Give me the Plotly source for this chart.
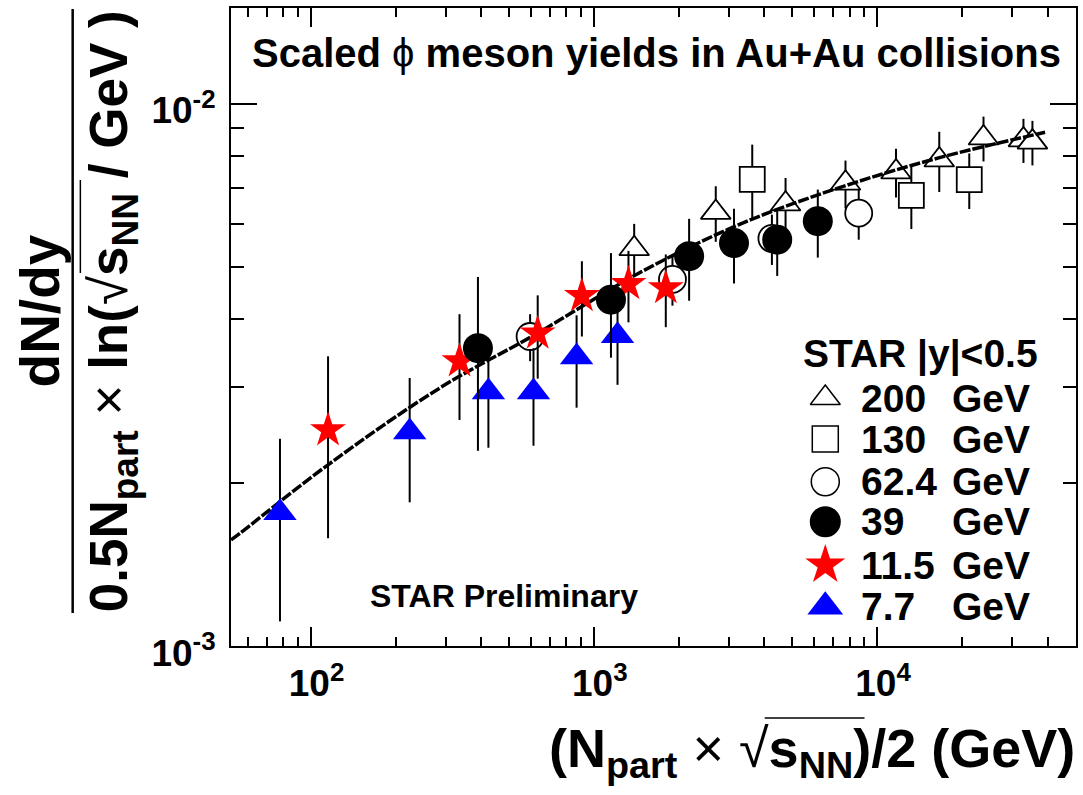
import plotly.graph_objects as go

# ---- phi yields per (0.5 N_part * ln(sqrt(s_NN)/GeV)) vs (N_part * sqrt(s_NN))/2 ----
energies = ["200", "130", "62.4", "39", "11.5", "7.7"]

x_200 = [1389, 2696, 4755, 7740, 11670, 16590, 23770, 32890, 35380]
y_200 = [0.00540, 0.00630, 0.00653, 0.00713, 0.00748, 0.00787, 0.00864, 0.00857, 0.00849]
e_200 = [0.00060, 0.00074, 0.00076, 0.00072, 0.00077, 0.00100, 0.00082, 0.00080, 0.00080]

x_130 = [3627, 13220, 21170]
y_130 = [0.00725, 0.00677, 0.00724]
e_130 = [0.00115, 0.00090, 0.00085]

x_62 = [596, 1896, 4256, 8619]
y_62 = [0.00372, 0.00474, 0.00564, 0.00628]
e_62 = [0.00037, 0.00050, 0.00060, 0.00067]

x_39 = [390, 1150, 2171, 3127, 4443, 6180]
y_39 = [0.00354, 0.00435, 0.00523, 0.00553, 0.00561, 0.00607]
e_39 = [0.00125, 0.00095, 0.00090, 0.00087, 0.00080, 0.00087]

x_11 = [115.3, 335.7, 634, 908, 1326, 1796]
y_11 = [0.00250, 0.00335, 0.00377, 0.00442, 0.00465, 0.00457]
e_11 = [0.00092, 0.00074, 0.00066, 0.00070, 0.00070, 0.00070]

x_7 = [78.0, 223.9, 424.6, 612.6, 869.7, 1213]
y_7 = [0.00176, 0.00248, 0.00294, 0.00294, 0.00341, 0.00373]
e_7 = [0.00065, 0.00064, 0.00062, 0.00060, 0.00066, 0.00070]

# global trend curve
fit_x = [52.4, 56.35, 115.3, 285.5, 634, 1446, 3256, 7328, 16500, 39220]
fit_y = [0.001569, 0.001614, 0.002158, 0.002988, 0.003774, 0.004871,
         0.005981, 0.006991, 0.007939, 0.008851]

x_ticks = [100, 1000, 10000]
x_ticktext = ["10<sup>2</sup>", "10<sup>3</sup>", "10<sup>4</sup>"]
y_ticks = [0.001, 0.01]
y_ticktext = ["10<sup>-3</sup>", "10<sup>-2</sup>"]

# ---- page geometry (pixels) ----
W, H = 1083, 795
L, R, T, B = 231, 1078, 8, 646
FONT = "Liberation Sans, Arial, Helvetica, sans-serif"


def fx(p):
    return (p - L) / (R - L)


def fy(p):
    return (B - p) / (B - T)


def err(arr):
    return dict(type="data", array=arr, color="black", thickness=2, width=0)


fig = go.Figure()

# open markers first (white filled so their error bars do not show inside)
fig.add_trace(go.Scatter(x=x_62, y=y_62, mode="markers", error_y=err(e_62),
                         marker=dict(symbol="circle", size=27, color="white",
                                     line=dict(color="black", width=1.8))))
fig.add_trace(go.Scatter(x=x_200, y=y_200, mode="markers", error_y=err(e_200),
                         marker=dict(symbol="triangle-up", size=26, color="white",
                                     line=dict(color="black", width=1.8))))
fig.add_trace(go.Scatter(x=x_130, y=y_130, mode="markers", error_y=err(e_130),
                         marker=dict(symbol="square", size=25, color="white",
                                     line=dict(color="black", width=1.8))))
fig.add_trace(go.Scatter(x=fit_x, y=fit_y, mode="lines",
                         line=dict(color="black", width=3.5, dash="11px,2px",
                                   shape="spline", smoothing=1.0)))
fig.add_trace(go.Scatter(x=x_7, y=y_7, mode="markers", error_y=err(e_7),
                         marker=dict(symbol="triangle-up", size=29, color="#0000ff",
                                     line=dict(width=0))))
fig.add_trace(go.Scatter(x=x_11, y=y_11, mode="markers", error_y=err(e_11),
                         marker=dict(symbol="star", size=27, color="#ff0000",
                                     line=dict(width=0))))
fig.add_trace(go.Scatter(x=x_39, y=y_39, mode="markers", error_y=err(e_39),
                         marker=dict(symbol="circle", size=30, color="black",
                                     line=dict(width=0))))

# legend keys on a helper axis spanning the frame
key_rows = [398, 439, 481.7, 521.7, 565, 606.7]
fig.add_trace(go.Scatter(
    x=[fx(826.7)] * 6, y=[fy(r) for r in key_rows], xaxis="x2", yaxis="y2",
    mode="markers", cliponaxis=False,
    marker=dict(symbol=["triangle-up", "square", "circle", "circle", "star", "triangle-up"],
                size=[26, 26, 28, 31, 30, 31], opacity=1,
                color=["white", "white", "white", "black", "#ff0000", "#0000ff"],
                line=dict(color="black", width=[1.5, 1.5, 1.5, 0, 0, 0]))))

annotations = []
for lab, r in zip(energies, key_rows):
    annotations.append(dict(x=fx(860), y=fy(r), text=lab, xanchor="left", yanchor="middle"))
    annotations.append(dict(x=fx(952), y=fy(r), text="GeV", xanchor="left", yanchor="middle"))
annotations.append(dict(x=fx(802), y=fy(354), text="STAR |y|<0.5", xanchor="left", yanchor="middle"))
for a in annotations:
    a.update(xref="paper", yref="paper", showarrow=False,
             font=dict(family=FONT, size=39, color="black", weight="bold"))

annotations += [
    dict(x=fx(658), y=fy(53), xref="paper", yref="paper", showarrow=False,
         xanchor="center", yanchor="middle",
         text="<b>Scaled</b> \u03d5 <b>meson yields in Au+Au collisions</b>",
         font=dict(family=FONT, size=40, color="black")),
    dict(x=fx(368), y=fy(596), xref="paper", yref="paper", showarrow=False,
         xanchor="left", yanchor="middle", text="STAR Preliminary",
         font=dict(family=FONT, size=32, color="black", weight="bold")),
    # y title: fraction
    dict(x=fx(40), y=fy(311), xref="paper", yref="paper", showarrow=False,
         xanchor="center", yanchor="middle", textangle=-90, text="<b>dN/dy</b>",
         font=dict(family=FONT, size=55, color="black")),
    dict(x=fx(112), y=fy(311), xref="paper", yref="paper", showarrow=False,
         xanchor="center", yanchor="middle", textangle=-90,
         text="<b>0.5N<sub>part</sub></b> \u00d7 <b>ln(</b>\u221a<b>s<sub>NN</sub> / GeV )</b>",
         font=dict(family=FONT, size=53, color="black")),
    # x title
    dict(x=fx(1079), y=fy(752), xref="paper", yref="paper", showarrow=False,
         xanchor="right", yanchor="middle",
         text="<b>(N<sub>part</sub></b> \u00d7 \u221a<b>s<sub>NN</sub>)/2 (GeV)</b>",
         font=dict(family=FONT, size=54, color="black")),
]

shapes = [
    # fraction bar of the y title
    dict(type="line", xref="paper", yref="paper", x0=fx(72.3), x1=fx(72.3),
         y0=fy(9), y1=fy(613), line=dict(color="black", width=2.5)),
    # radical overline, y title
    dict(type="line", xref="paper", yref="paper", x0=fx(80), x1=fx(80),
         y0=fy(180), y1=fy(273), line=dict(color="black", width=1.5)),
    # radical overline, x title
    dict(type="line", xref="paper", yref="paper", x0=fx(766), x1=fx(866),
         y0=fy(718), y1=fy(718), line=dict(color="black", width=1.5)),
]

x_minor = [60, 70, 80, 90, 200, 300, 400, 500, 600, 700, 800, 900,
           2000, 3000, 4000, 5000, 6000, 7000, 8000, 9000, 20000, 30000, 40000]
y_minor = [0.002, 0.003, 0.004, 0.005, 0.006, 0.007, 0.008, 0.009]

tickfont = dict(family=FONT, size=37, color="black", weight="bold")
axis_common = dict(type="log", showline=True, linewidth=2, linecolor="black",
                   mirror="ticks", ticks="inside", tickcolor="black", tickwidth=1.5,
                   showgrid=False, zeroline=False, tickfont=tickfont)

fig.update_layout(
    width=W, height=H,
    margin=dict(l=L, r=W - R, t=T, b=H - B, pad=0),
    paper_bgcolor="white", plot_bgcolor="white",
    showlegend=False,
    xaxis=dict(axis_common, range=[1.7192, 4.7026], tickvals=x_ticks, ticktext=x_ticktext,
               ticklen=19, ticklabelstandoff=4, ticklabelshift=6,
               minor=dict(tickvals=x_minor, ticks="inside", ticklen=9,
                          tickwidth=1.5, tickcolor="black", showgrid=False)),
    yaxis=dict(axis_common, range=[-3, -1.8239], tickvals=y_ticks, ticktext=y_ticktext,
               ticklen=26, ticklabelstandoff=6, ticklabelshift=7,
               minor=dict(tickvals=y_minor, ticks="inside", ticklen=13,
                          tickwidth=1.5, tickcolor="black", showgrid=False)),
    xaxis2=dict(overlaying="x", anchor="y2", range=[0, 1], visible=False),
    yaxis2=dict(overlaying="y", anchor="x2", range=[0, 1], visible=False),
    annotations=annotations,
    shapes=shapes,
)

fig.write_html("out.html")
